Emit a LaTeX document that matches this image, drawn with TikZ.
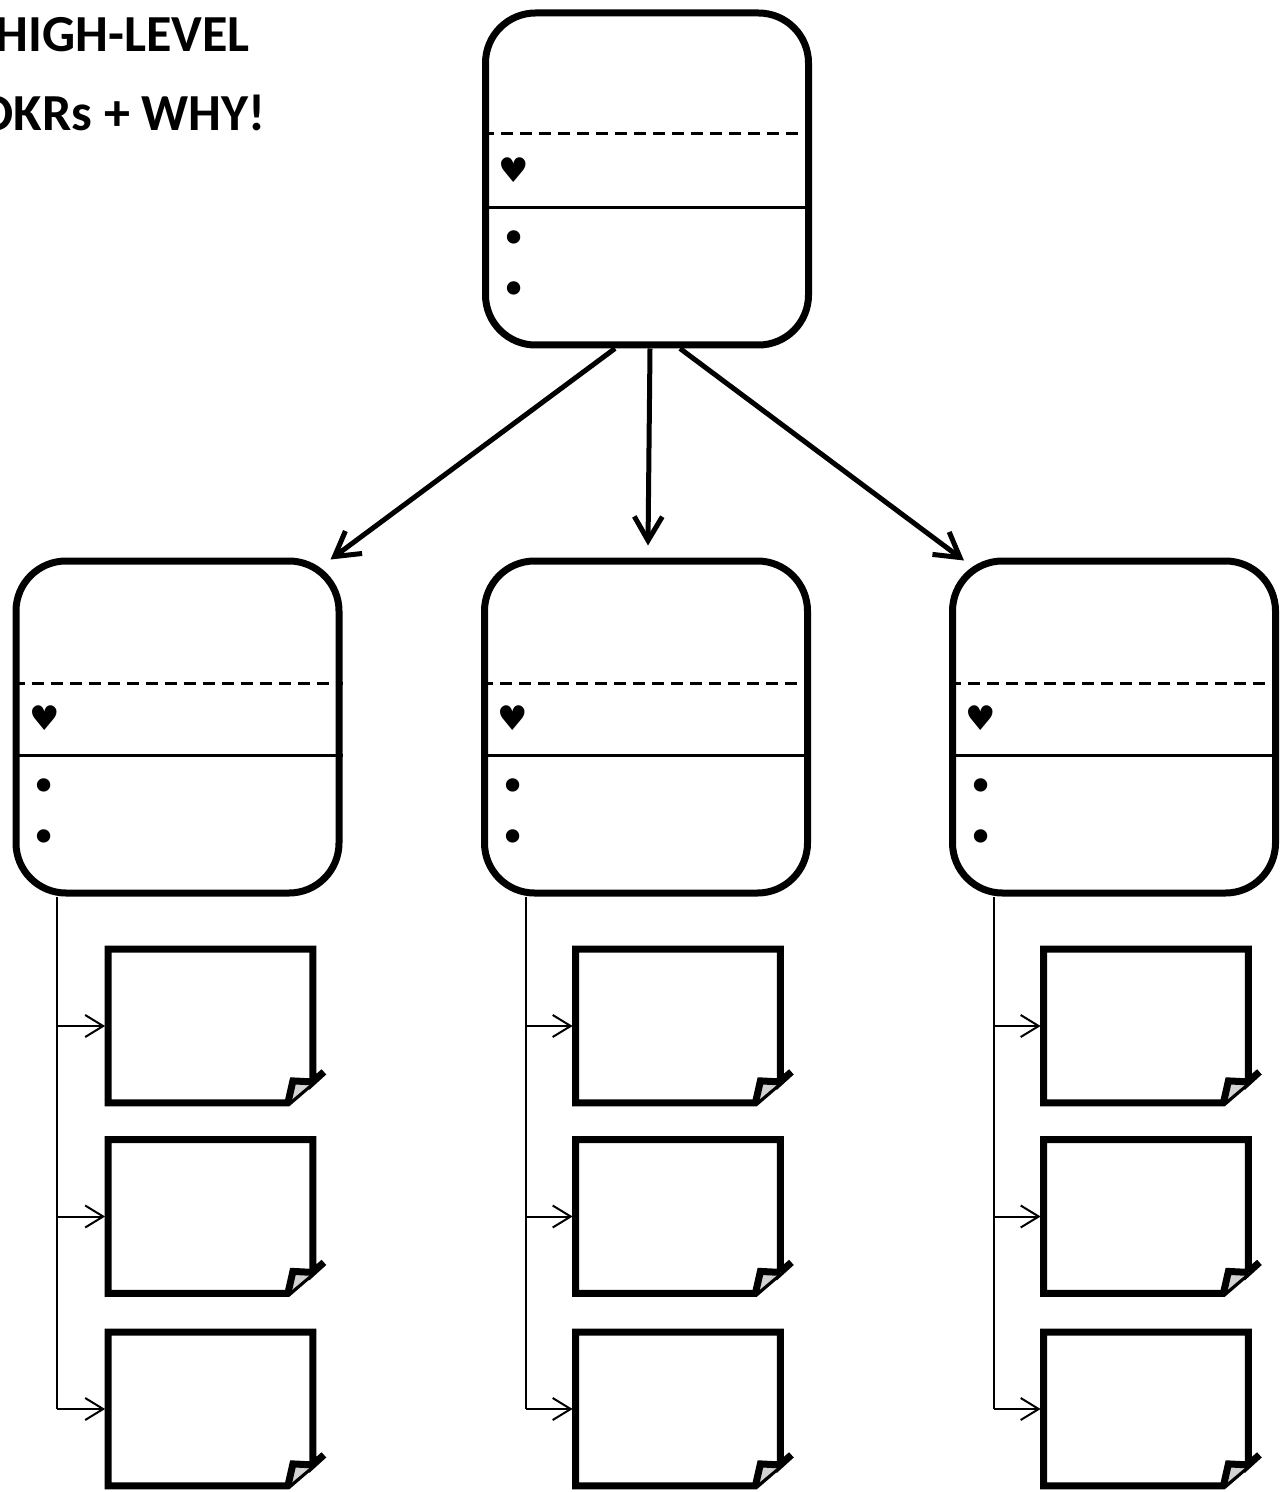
\documentclass[tikz,border=0pt]{standalone}
\usepackage{fontspec}
\setmainfont{Carlito}
\newfontfamily\symfont{DejaVu Sans}
\usepackage{tikz}
\usetikzlibrary{calc, positioning, arrows.meta}

% outline of a note card with a folded corner
\newcommand{\foldcard}[1]{%
\draw [cardline] (#1.north west) -- (#1.north east) -- ($(#1.south east)+(0,-21)$) -- ($(#1.south east)+(11,-31)$) -- ($(#1.south east)+(-25,0)$) -- (#1.south west) -- cycle;
\draw [cardline, fill=gray!35] ($(#1.south east)+(-25,0)$) -- ($(#1.south east)+(-20,-22)$) -- ($(#1.south east)+(0,-21)$);
}

\begin{document}
\begin{tikzpicture}[x=0.5pt, y=-0.5pt]

\tikzstyle{okr} = [draw, rounded corners=25pt, line width=3.5pt, minimum width=161.5pt, minimum height=166pt, inner sep=0pt];
\tikzstyle{card} = [minimum width=102pt, minimum height=76.5pt, inner sep=0pt];
\tikzstyle{cardline} = [line width=3.5pt, line join=miter];
\tikzstyle{arrow} = [line width=2.5pt, -{Straight Barb[length=12pt, width=14pt]}];
\tikzstyle{branch} = [line width=1pt, shorten >=1.5pt, -{Straight Barb[length=9pt, width=11pt]}];
\tikzstyle{divdash} = [line width=1.5pt, dash pattern=on 6pt off 3.5pt];
\tikzstyle{divline} = [line width=1.5pt];
\tikzstyle{heart} = [font=\symfont\fontsize{17}{17}\selectfont, inner sep=0pt];
\tikzstyle{dot} = [font=\symfont\fontsize{23}{23}\selectfont, inner sep=0pt];
\tikzstyle{headline} = [anchor=base east, inner sep=0pt, font=\bfseries\fontsize{26}{30}\selectfont];

\useasboundingbox (0,0) rectangle (1285,1492);

\node(hl) [headline] at (250,52) {HIGH-LEVEL};
\node(why) [headline] at (266,131) {OKRs + WHY!};

\node(goal) [okr] at (647,179) {};
\node(subA) [okr] at (177.5,727) {};
\node(subB) [okr] at (646,727) {};
\node(subC) [okr] at (1114,727) {};

\draw [divdash] ($(goal.north west)+(0,124)$) -- ($(goal.north east)+(0,124)$);
\draw [divline] ($(goal.north west)+(0,198)$) -- ($(goal.north east)+(0,198)$);
\node(goalH) [heart] at ($(goal.north west)+(32,161)$) {♥};
\node(goalB1) [dot] at ($(goal.north west)+(32,233)$) {•};
\node(goalB2) [dot] at ($(goal.north west)+(32,284)$) {•};

\draw [divdash] ($(subA.north west)+(0,126)$) -- ($(subA.north east)+(0,126)$);
\draw [divline] ($(subA.north west)+(0,198)$) -- ($(subA.north east)+(0,198)$);
\node(subAH) [heart] at ($(subA.north west)+(32,161)$) {♥};
\node(subAB1) [dot] at ($(subA.north west)+(32,233)$) {•};
\node(subAB2) [dot] at ($(subA.north west)+(32,284)$) {•};

\draw [divdash] ($(subB.north west)+(0,126)$) -- ($(subB.north east)+(0,126)$);
\draw [divline] ($(subB.north west)+(0,198)$) -- ($(subB.north east)+(0,198)$);
\node(subBH) [heart] at ($(subB.north west)+(32,161)$) {♥};
\node(subBB1) [dot] at ($(subB.north west)+(32,233)$) {•};
\node(subBB2) [dot] at ($(subB.north west)+(32,284)$) {•};

\draw [divdash] ($(subC.north west)+(0,126)$) -- ($(subC.north east)+(0,126)$);
\draw [divline] ($(subC.north west)+(0,198)$) -- ($(subC.north east)+(0,198)$);
\node(subCH) [heart] at ($(subC.north west)+(32,161)$) {♥};
\node(subCB1) [dot] at ($(subC.north west)+(32,233)$) {•};
\node(subCB2) [dot] at ($(subC.north west)+(32,284)$) {•};

\draw [arrow] ($(goal.south)+(-32,0)$) -- ($(subA.north east)+(-12,2)$);
\draw [arrow] ($(goal.south)+(3,0)$) -- ($(subB.north)+(2,-12)$);
\draw [arrow] ($(goal.south)+(33,0)$) -- ($(subC.north west)+(15,3)$);

\node(taskA1) [card] at (210.5,1026) {};
\node(taskA2) [card] at (210.5,1216.5) {};
\node(taskA3) [card] at (210.5,1409) {};
\node(taskB1) [card] at (678,1026) {};
\node(taskB2) [card] at (678,1216.5) {};
\node(taskB3) [card] at (678,1409) {};
\node(taskC1) [card] at (1146,1026) {};
\node(taskC2) [card] at (1146,1216.5) {};
\node(taskC3) [card] at (1146,1409) {};

\foldcard{taskA1} \foldcard{taskA2} \foldcard{taskA3}
\foldcard{taskB1} \foldcard{taskB2} \foldcard{taskB3}
\foldcard{taskC1} \foldcard{taskC2} \foldcard{taskC3}

\coordinate(trunkA) at (57,0);
\coordinate(trunkB) at (526,0);
\coordinate(trunkC) at (994,0);

\draw [line width=1pt] (trunkA |- subA.south) -- (trunkA |- taskA3.west);
\draw [line width=1pt] (trunkB |- subB.south) -- (trunkB |- taskB3.west);
\draw [line width=1pt] (trunkC |- subC.south) -- (trunkC |- taskC3.west);

\draw [branch] (trunkA |- taskA1.west) -- (taskA1.west);
\draw [branch] (trunkA |- taskA2.west) -- (taskA2.west);
\draw [branch] (trunkA |- taskA3.west) -- (taskA3.west);
\draw [branch] (trunkB |- taskB1.west) -- (taskB1.west);
\draw [branch] (trunkB |- taskB2.west) -- (taskB2.west);
\draw [branch] (trunkB |- taskB3.west) -- (taskB3.west);
\draw [branch] (trunkC |- taskC1.west) -- (taskC1.west);
\draw [branch] (trunkC |- taskC2.west) -- (taskC2.west);
\draw [branch] (trunkC |- taskC3.west) -- (taskC3.west);

\end{tikzpicture}
\end{document}
